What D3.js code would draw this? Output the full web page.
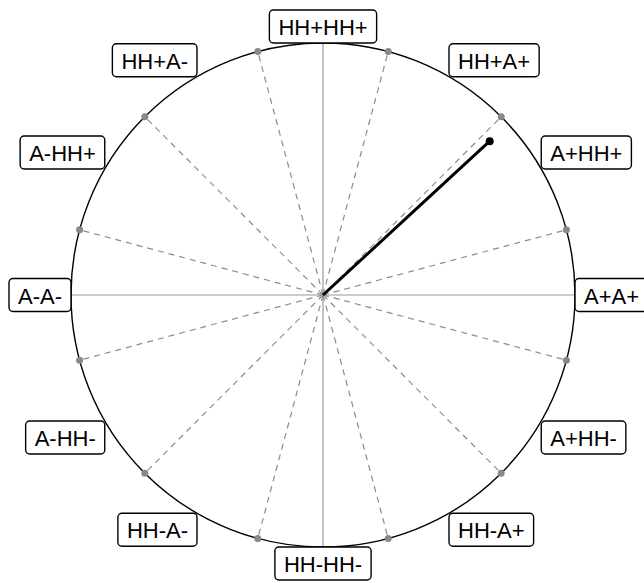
<!DOCTYPE html>
<html><head><meta charset="utf-8">
<script src="https://cdn.jsdelivr.net/npm/d3@7"></script>
<style>body{margin:0;background:#fff;}svg{display:block;}</style>
</head><body>
<script>
// Data
const labelNames = ["A+A+","A+HH+","HH+A+","HH+HH+","HH+A-","A-HH+","A-A-","A-HH-","HH-A-","HH-HH-","HH-A+","A+HH-"];
const labelAngles = [0,30,60,90,120,150,180,210,240,270,300,330];
const dashAngles = [15,45,75,105,135,165,195,225,255,285,315,345];
const vectorAngle = [42.7];
const vectorMagnitude = [0.9];

const W = 644, H = 583;
const cx = 323, cy = 295, R = 252;
const svg = d3.select("body").append("svg").attr("width", W).attr("height", H);

const rScale = d3.scaleLinear().domain([0, 1]).range([0, R]);
const rad = d => d * Math.PI / 180;
const px = (a, m) => cx + rScale(m) * Math.cos(rad(a));
const py = (a, m) => cy - rScale(m) * Math.sin(rad(a));

// dashed radial lines
svg.selectAll("line.dash").data(dashAngles).enter().append("line")
  .attr("x1", cx).attr("y1", cy)
  .attr("x2", d => px(d, 1)).attr("y2", d => py(d, 1))
  .attr("stroke", "#8c8c8c").attr("stroke-width", 1.2).attr("stroke-dasharray", "6,5");

// axes
svg.append("line").attr("x1", cx - R).attr("x2", cx + R).attr("y1", cy).attr("y2", cy)
  .attr("stroke", "#999").attr("stroke-width", 1.2);
svg.append("line").attr("x1", cx).attr("x2", cx).attr("y1", cy - R).attr("y2", cy + R)
  .attr("stroke", "#999").attr("stroke-width", 1.2);

// circle
svg.append("circle").attr("cx", cx).attr("cy", cy).attr("r", R)
  .attr("fill", "none").attr("stroke", "#000").attr("stroke-width", 1.4);

// gray dots
svg.selectAll("circle.dot").data(dashAngles).enter().append("circle")
  .attr("cx", d => px(d, 1)).attr("cy", d => py(d, 1)).attr("r", 3.5)
  .attr("fill", "#888");

// vector
vectorAngle.forEach((a, i) => {
  svg.append("line").attr("x1", cx).attr("y1", cy)
    .attr("x2", px(a, vectorMagnitude[i])).attr("y2", py(a, vectorMagnitude[i]))
    .attr("stroke", "#000").attr("stroke-width", 3);
  svg.append("circle").attr("cx", px(a, vectorMagnitude[i])).attr("cy", py(a, vectorMagnitude[i]))
    .attr("r", 4).attr("fill", "#000");
});

// labels
const padX = 9, boxH = 33;
labelNames.forEach((name, i) => {
  const a = labelAngles[i];
  const ax = px(a, 1), ay = py(a, 1);
  const g = svg.append("g");
  const t = g.append("text").text(name)
    .attr("font-family", "Liberation Sans, Arial, sans-serif").attr("font-size", 22)
    .attr("fill", "#000").attr("dominant-baseline", "central").attr("text-anchor", "middle");
  const tw = t.node().getComputedTextLength();
  const bw = tw + 2 * padX;
  const c = Math.round(Math.cos(rad(a)) * 1000) / 1000;
  const s = Math.round(Math.sin(rad(a)) * 1000) / 1000;
  let x0 = c > 0 ? ax : (c < 0 ? ax - bw : ax - bw / 2);
  let y0 = s > 0 ? ay - boxH : (s < 0 ? ay : ay - boxH / 2);
  g.insert("rect", "text").attr("x", x0).attr("y", y0).attr("width", bw).attr("height", boxH)
    .attr("rx", 4).attr("fill", "#fff").attr("stroke", "#000").attr("stroke-width", 1.4);
  t.attr("x", x0 + bw / 2).attr("y", y0 + boxH / 2 + 1);
});
</script>
</body></html>
